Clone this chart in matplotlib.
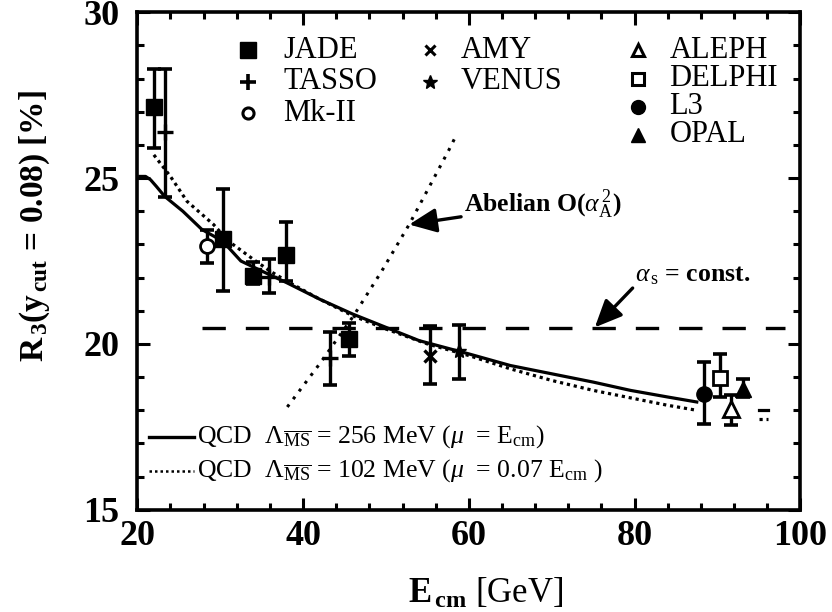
import matplotlib
matplotlib.use("Agg")
import matplotlib.pyplot as plt
from matplotlib.ticker import MultipleLocator

plt.rcParams["font.family"] = ["Liberation Serif", "DejaVu Serif"]
plt.rcParams["mathtext.fontset"] = "custom"
plt.rcParams["mathtext.rm"] = "Liberation Serif"
plt.rcParams["mathtext.it"] = "Liberation Serif:italic"
plt.rcParams["mathtext.bf"] = "Liberation Serif:bold"

# measurements: energy [GeV], R3 [%], error bar low/high
jade_e = [22.0, 30.3, 34.0, 38.0, 45.6]
jade_r = [27.15, 23.15, 22.05, 22.67, 20.15]
jade_lo = [25.9, 21.6, 21.8, 21.9, 19.65]
jade_hi = [28.3, 24.67, 22.47, 23.67, 20.63]

tasso_e = [23.3, 35.9, 43.3]
tasso_r = [26.4, 22.03, 19.57]
tasso_lo = [24.42, 21.53, 18.77]
tasso_hi = [28.3, 22.55, 20.37]

mk2_e = [28.4]
mk2_r = [22.95]
mk2_lo = [22.45]
mk2_hi = [23.45]

amy_e = [55.3]
amy_r = [19.65]
amy_lo = [18.8]
amy_hi = [20.55]

venus_e = [58.8]
venus_r = [19.8]
venus_lo = [18.95]
venus_hi = [20.57]

l3_e = [88.4]
l3_r = [18.5]
l3_lo = [17.6]
l3_hi = [19.45]

delphi_e = [90.3]
delphi_r = [18.97]
delphi_lo = [18.4]
delphi_hi = [19.7]

aleph_e = [91.6]
aleph_r = [18.05]
aleph_lo = [17.55]
aleph_hi = [18.45]

opal_e = [93.1]
opal_r = [18.65]
opal_lo = [18.4]
opal_hi = [18.95]

# QCD predictions
qcd1_e = [20.3, 21.0, 21.6, 22.3, 23.3, 25.5, 27.8, 30.3, 32.5, 35, 38, 42, 46, 50, 54, 60,
          65, 71, 75, 79.5, 84, 87.5]
qcd1_r = [25.05, 25.05, 24.95, 24.75, 24.45, 24.0, 23.45, 23.1, 22.5, 22.2, 21.85, 21.35,
          20.9, 20.5, 20.1, 19.7, 19.35, 19.05, 18.85, 18.6, 18.4, 18.25]
qcd1_tail_e = [95.0, 96.1]
qcd1_tail_r = [18.0, 18.0]

qcd2_e = [22.0, 24, 26, 29.2, 31, 34, 36, 38, 42, 46, 50, 55, 60, 65, 70, 75, 80, 84, 87.5]
qcd2_r = [25.7, 25.05, 24.3, 23.6, 23.1, 22.55, 22.2, 21.9, 21.35, 20.85, 20.45, 20.0,
          19.65, 19.25, 18.9, 18.6, 18.35, 18.15, 18.0]
qcd2_tail_e = [95.0, 96.1]
qcd2_tail_r = [17.75, 17.75]

abelian_e = [38.1, 42.0, 46.1, 49.5, 52.8, 57.6, 58.4]
abelian_r = [18.1, 19.4, 20.85, 22.2, 23.6, 25.85, 26.25]

const_e = [27.8, 98.2]
const_r = [20.48, 20.48]

fig = plt.figure(figsize=(8.32, 6.12), dpi=100)
ax = fig.add_axes([0.165, 0.167, 0.797, 0.813])

ax.plot(qcd1_e, qcd1_r, "k-", lw=2.3)
ax.plot(qcd1_tail_e, qcd1_tail_r, "k-", lw=2.3)
ax.plot(qcd2_e, qcd2_r, "k", ls=(0, (1, 1.2)), lw=2.3)
ax.plot(qcd2_tail_e, qcd2_tail_r, "k", ls=(0, (1, 1.2)), lw=2.3)
ax.plot(abelian_e, abelian_r, "k", ls=(0, (1, 2.2)), lw=2.2)
ax.plot(const_e, const_r, "k", ls=(0, (7, 6)), lw=2.4)


def points(e, r, lo, hi, **kw):
    yerr = [[v - l for v, l in zip(r, lo)], [h - v for v, h in zip(r, hi)]]
    ax.errorbar(e, r, yerr=yerr, fmt="none", ecolor="k", elinewidth=2.4,
                capsize=5, capthick=2.6, zorder=3)
    ax.plot(e, r, ls="none", color="k", zorder=4, **kw)


points(jade_e, jade_r, jade_lo, jade_hi, marker="s", ms=11)
points(tasso_e, tasso_r, tasso_lo, tasso_hi, marker="+", ms=11, mew=2.4)
points(mk2_e, mk2_r, mk2_lo, mk2_hi, marker="o", ms=10, mfc="white", mew=2)
points(amy_e, amy_r, amy_lo, amy_hi, marker="x", ms=8, mew=2.4)
points(venus_e, venus_r, venus_lo, venus_hi, marker="*", ms=11)
points(l3_e, l3_r, l3_lo, l3_hi, marker="o", ms=11)
points(delphi_e, delphi_r, delphi_lo, delphi_hi, marker="s", ms=10, mfc="white", mew=2)
points(aleph_e, aleph_r, aleph_lo, aleph_hi, marker="^", ms=11, mfc="white", mew=2)
points(opal_e, opal_r, opal_lo, opal_hi, marker="^", ms=11)

# experiment key
left_rows = [28.85, 27.9, 26.95]
right_rows = [28.85, 28.0, 27.15, 26.3]
left_col = [("JADE", dict(marker="s", ms=11)),
            ("TASSO", dict(marker="+", ms=11, mew=2.6)),
            ("Mk-II", dict(marker="o", ms=8, mfc="white", mew=2.2))]
mid_col = [("AMY", dict(marker="x", ms=7, mew=2.2)),
           ("VENUS", dict(marker="*", ms=10))]
right_col = [("ALEPH", dict(marker="^", ms=9, mfc="white", mew=2.2)),
             ("DELPHI", dict(marker="s", ms=8, mfc="white", mew=2.2)),
             ("L3", dict(marker="o", ms=10)),
             ("OPAL", dict(marker="^", ms=10))]
for col, rows, xm, xt in [(left_col, left_rows, 33.4, 37.6),
                          (mid_col, left_rows, 55.3, 59.0),
                          (right_col, right_rows, 80.4, 84.2)]:
    for (name, kw), yy in zip(col, rows):
        ax.plot([xm], [yy], ls="none", color="k", **kw)
        ax.text(xt, yy, name, fontsize=22, va="center", ha="left")

arrow = dict(arrowstyle="-|>,head_length=0.9,head_width=0.4",
             color="k", lw=2.4, shrinkA=0, shrinkB=0)
ax.annotate(r"Abelian O($\alpha_{\rm A}^{\,2}$)", xy=(52.8, 23.6), xytext=(59.4, 24.2),
            fontsize=18.5, fontweight="bold", va="center", ha="left", arrowprops=arrow)
ax.annotate(r"$\alpha_{\,\rm s}$ = const.", xy=(75.2, 20.5), xytext=(80.1, 22.05),
            fontsize=18.5, fontweight="bold", va="center", ha="left",
            arrowprops=dict(arrow, relpos=(0.0, 0.1)))

# theory key
ax.plot([21.4, 26.9], [17.2, 17.2], "k-", lw=2.4)
ax.text(27.2, 17.2, r"QCD  $\Lambda_{\overline{\rm MS}}$ = 256 MeV ($\mu$  = E$_{\rm cm}$)",
        fontsize=18.5, va="center", ha="left")
ax.plot([21.4, 26.9], [16.17, 16.17], "k", ls=(0, (1, 1.2)), lw=1.8)
ax.text(27.2, 16.17, r"QCD  $\Lambda_{\overline{\rm MS}}$ = 102 MeV ($\mu$  = 0.07 E$_{\rm cm}$ )",
        fontsize=18.5, va="center", ha="left")

ax.set_xlim(20, 100)
ax.set_ylim(15, 30)
ax.xaxis.set_major_locator(MultipleLocator(20))
ax.xaxis.set_minor_locator(MultipleLocator(4))
ax.yaxis.set_major_locator(MultipleLocator(5))
ax.yaxis.set_minor_locator(MultipleLocator(1))
ax.tick_params(which="both", direction="in", top=True, right=True, width=2.2)
ax.tick_params(which="major", length=9, labelsize=26)
ax.tick_params(which="minor", length=5)
ax.tick_params(axis="x", pad=7)
ax.tick_params(axis="y", pad=13)
for lab in ax.get_xticklabels() + ax.get_yticklabels():
    lab.set_fontweight("bold")
for s in ax.spines.values():
    s.set_linewidth(2.6)

ax.set_xlabel(r"$\mathbf{E_{\,cm}}$ [GeV]", fontsize=25)
ax.xaxis.set_label_coords(0.525, -0.135)
ax.set_ylabel(r"$\mathbf{R_{\,3}(y_{\,cut}\,=\,0.08)\ [\%]}$", fontsize=24)
ax.yaxis.set_label_coords(-0.128, 0.57)

fig.savefig("out.png", dpi=100)
